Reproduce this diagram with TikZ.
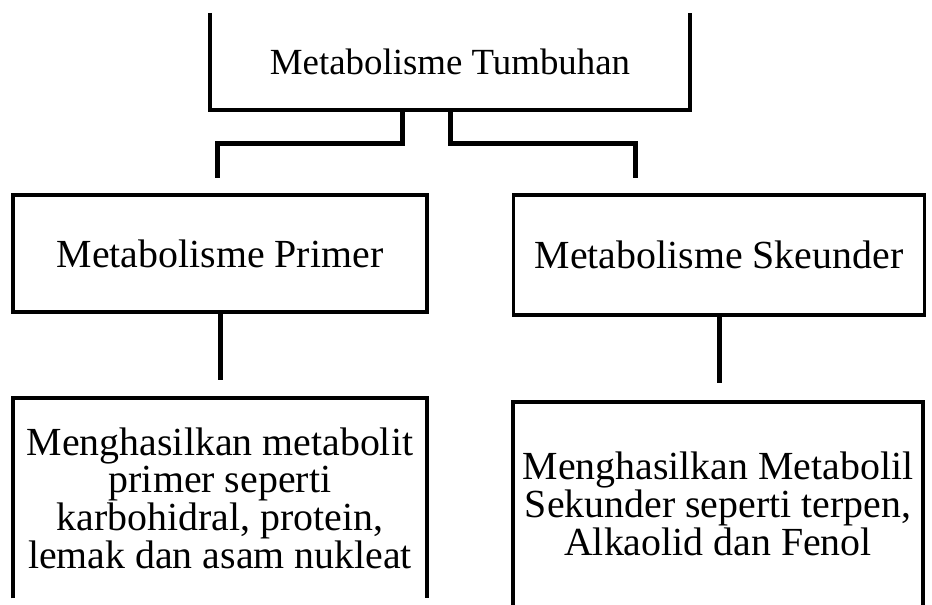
\documentclass[tikz,border=0pt]{standalone}
\usepackage{fontspec}
\setmainfont{Liberation Serif}
\begin{document}
\begin{tikzpicture}[x=1bp,y=-1bp,
  box/.style={inner sep=0pt,align=center,font=\fontsize{40}{38}\selectfont},
  frame/.style={line width=3.5bp,line join=miter},
  link/.style={line width=5bp,line join=miter}]
\useasboundingbox (0,0) rectangle (932,605);
\clip (0,0) rectangle (932,605);

% open-topped root box
\node[box,minimum width=480bp,minimum height=97bp,font=\fontsize{37}{38}\selectfont]
  (root) at (450,61.5) {Metabolisme Tumbuhan};
\draw[frame] (root.north west) -- (root.south west) -- (root.south east) -- (root.north east);

% second level
\node[box,draw,frame,minimum width=414bp,minimum height=117bp]
  (prim) at (220,253.5) {Metabolisme Primer};
\node[box,draw,frame,minimum width=411bp,minimum height=120bp]
  (sek) at (719,255) {Metabolisme Skeunder};

% open-bottomed result boxes
\node[box,minimum width=414bp,minimum height=200bp,anchor=north]
  (hasilP) at (220,398) {Menghasilkan metabolit\\primer seperti\\karbohidral, protein,\\lemak dan asam nukleat};
\draw[frame] (hasilP.south west) -- (hasilP.north west) -- (hasilP.north east) -- (hasilP.south east);
\node[box,minimum width=410bp,minimum height=204bp,anchor=north]
  (hasilS) at (718,402) {Menghasilkan Metabolil\\Sekunder seperti terpen,\\Alkaolid dan Fenol};
\draw[frame] (hasilS.south west) -- (hasilS.north west) -- (hasilS.north east) -- (hasilS.south east);

% connectors
\coordinate (endP) at (217,178);
\coordinate (endS) at (635,178);
\coordinate (endPP) at (220,380);
\coordinate (endSS) at (719,383);
\draw[link] ([xshift=-48bp]root.south) -- ++(0,33) -| (endP);
\draw[link] (root.south) -- ++(0,33) -| (endS);
\draw[link] (prim.south) -- (endPP);
\draw[link] (sek.south) -- (endSS);
\end{tikzpicture}
\end{document}
